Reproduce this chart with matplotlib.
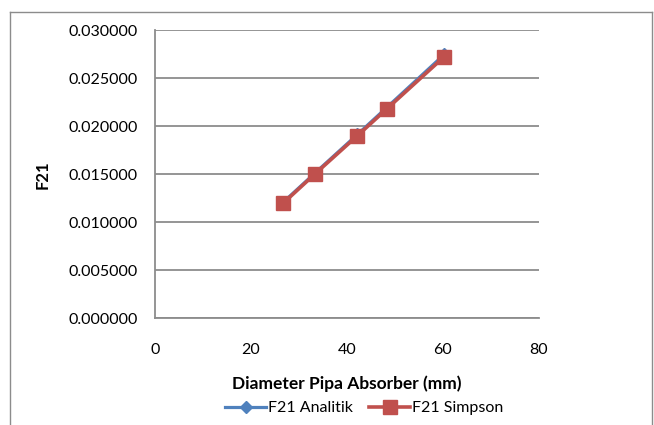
import matplotlib
matplotlib.use("Agg")
import matplotlib.pyplot as plt
from matplotlib.lines import Line2D

diameter = [26.7, 33.4, 42.2, 48.3, 60.3]
f21_analitik = [0.01208, 0.01515, 0.01915, 0.02195, 0.02748]
f21_simpson = [0.01198, 0.01506, 0.01902, 0.02180, 0.02725]
yticks = [0.0, 0.005, 0.010, 0.015, 0.020, 0.025, 0.030]
xticks = [0, 20, 40, 60, 80]

plt.rcParams['font.family'] = ['Lato', 'DejaVu Sans']

fig = plt.figure(figsize=(6.54, 4.25), dpi=100)
ax = fig.add_axes([155/654, 1-318.3/425, (538.7-155)/654, (318.3-30.3)/425])

ax.plot(diameter, f21_analitik, color='#4F81BD', lw=2.3, marker='D', ms=6.5,
        label='F21 Analitik', zorder=3)
ax.plot(diameter, f21_simpson, color='#C0504D', lw=2.6, marker='s', ms=10,
        label='F21 Simpson', zorder=4)

ax.set_xlim(0, 80)
ax.set_ylim(0, 0.03)
ax.set_xticks(xticks)
ax.set_yticks(yticks)
ax.set_yticklabels([f"{v:.6f}" for v in yticks])
ax.tick_params(length=0, labelsize=11.5)
ax.tick_params(axis='y', pad=12.5)
ax.tick_params(axis='x', pad=18)
ax.grid(axis='y', color='#8C8C8C', lw=1.3)
ax.set_axisbelow(True)
for s in ['top', 'right']:
    ax.spines[s].set_visible(False)
for s in ['left', 'bottom']:
    ax.spines[s].set_color('#8C8C8C')
    ax.spines[s].set_linewidth(1.3)

ax.set_xlabel('Diameter Pipa Absorber (mm)', fontsize=12.5, fontweight='bold', labelpad=13)
fig.text(43/654, 1-175/425, 'F21', rotation=90, fontsize=12, fontweight='bold',
         ha='center', va='center')

fig.legend(loc='center', bbox_to_anchor=(364/654, 1-408/425), ncol=2, frameon=False,
           fontsize=11.5, handlelength=2.6, columnspacing=1.0, handletextpad=0.1,
           borderpad=0)

# chart frame
fc = '#8C8C8C'
fig.add_artist(Line2D([10/654, 10/654], [0, 1-12/425], color=fc, lw=1, transform=fig.transFigure))
fig.add_artist(Line2D([10/654, 652/654], [1-12/425, 1-12/425], color=fc, lw=1, transform=fig.transFigure))
fig.add_artist(Line2D([652/654, 652/654], [0, 1-12/425], color=fc, lw=1, transform=fig.transFigure))

fig.savefig('out.png', dpi=100)
